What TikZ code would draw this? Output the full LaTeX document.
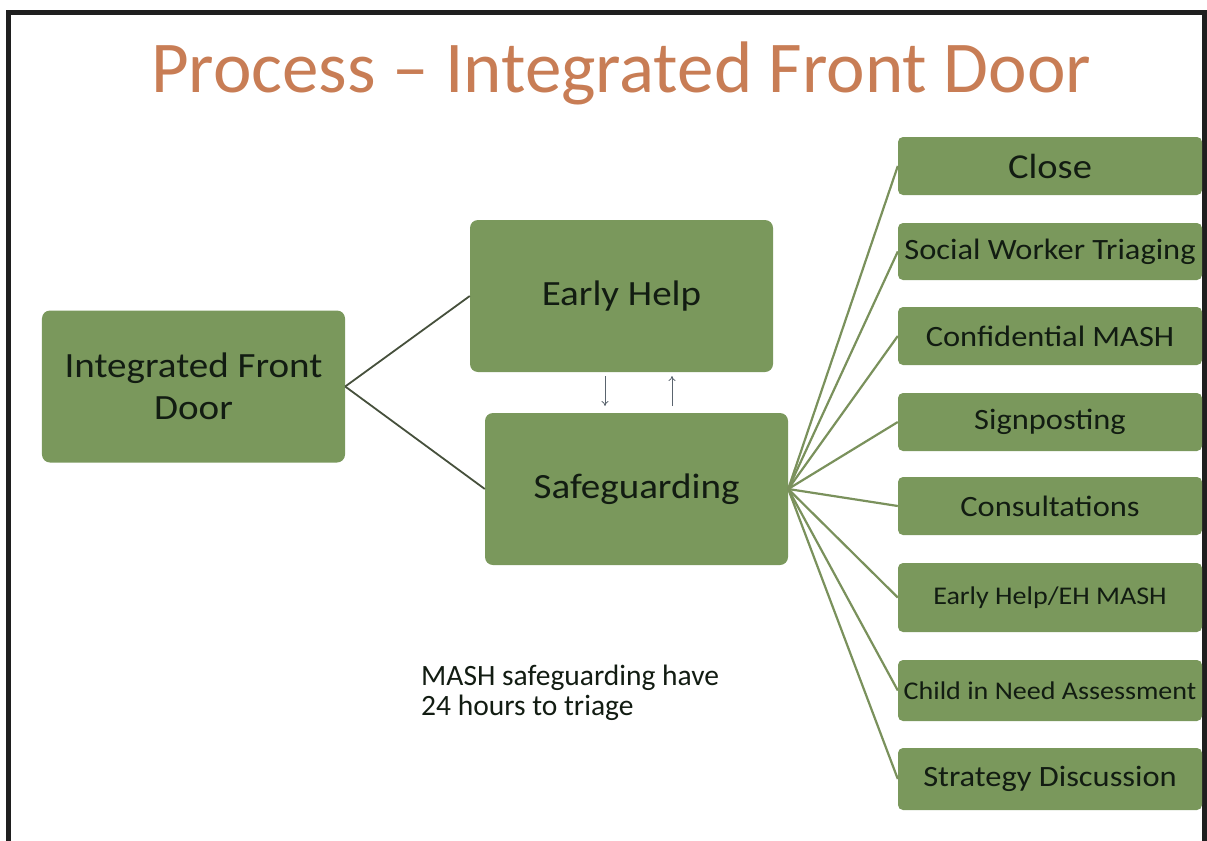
\documentclass[tikz,border=0pt]{standalone}
\usepackage{fontspec}
\setmainfont{Carlito}
\newfontfamily\boxfont{Carlito}[FakeStretch=1.1]
\usetikzlibrary{arrows.meta}
\definecolor{boxgreen}{RGB}{122,152,92}
\definecolor{txt}{RGB}{18,28,18}
\definecolor{titlec}{RGB}{200,125,85}
\definecolor{fanline}{RGB}{122,145,92}
\definecolor{ifdline}{RGB}{70,80,60}
\definecolor{arrc}{RGB}{90,100,110}
\tikzset{
  gbox/.style={fill=boxgreen, draw=none, rounded corners=8bp, text=txt, align=center, inner sep=0pt,
    font=\boxfont\fontsize{35.5bp}{42bp}\selectfont, minimum width=303bp, minimum height=152bp},
  sbox/.style={gbox, rounded corners=5bp, minimum width=304bp, minimum height=58bp,
    font=\boxfont\fontsize{29.5bp}{34bp}\selectfont},
  fan/.style={draw=fanline, line width=2.2bp},
  ifd/.style={draw=ifdline, line width=1.8bp},
  smallarr/.style={draw=arrc, line width=0.8bp, -{To[length=5bp,width=7bp]}},
}
\begin{document}
\begin{tikzpicture}[x=1bp,y=-1bp]
\useasboundingbox (0,0) rectangle (1207,841);
% frame
\draw[line width=5bp, draw=black!88] (8.5,850) -- (8.5,12.5) -- (1204.5,12.5) -- (1204.5,850);
% title
\node[text=titlec, font=\fontsize{73bp}{80bp}\selectfont] (title) at (621,73) {Process – Integrated Front Door};
% main boxes
\node[gbox] (ifdbox) at (193.5,386.5) {Integrated Front\\Door};
\node[gbox] (eh) at (621.5,296) {Early Help};
\node[gbox] (sg) at (636.5,489) {Safeguarding};
% right boxes
\node[sbox, font=\boxfont\fontsize{35bp}{40bp}\selectfont] (close) at (1050,166) {Close};
\node[sbox, minimum height=57bp] (swt) at (1050,251.5) {Social Worker Triaging};
\node[sbox] (conf) at (1050,336) {Confidential MASH};
\node[sbox] (sign) at (1050,422) {Signposting};
\node[sbox] (cons) at (1050,506) {Consultations};
\node[sbox, minimum height=69bp, font=\boxfont\fontsize{25.5bp}{30bp}\selectfont] (ehm) at (1050,597.5) {Early Help/EH MASH};
\node[sbox, minimum height=61bp, font=\boxfont\fontsize{25.5bp}{30bp}\selectfont] (cin) at (1050,690.5) {Child in Need Assessment};
\node[sbox, minimum height=62bp] (strat) at (1050,779) {Strategy Discussion};
% connectors IFD
\draw[ifd] (ifdbox.east) -- (eh.west);
\draw[ifd] (ifdbox.east) -- (sg.west);
% arrows between EH and SG
\coordinate (d1) at (605,376);
\coordinate (d2) at (605,406);
\coordinate (u1) at (672,406);
\coordinate (u2) at (672,376);
\draw[smallarr] (d1) -- (d2);
\draw[smallarr] (u1) -- (u2);
% fan
\foreach \t in {close,swt,conf,sign,cons,ehm,cin,strat}{
  \draw[fan] (sg.east) -- (\t.west);
}
% note
\node[anchor=north west, align=left, text=txt, font=\fontsize{29.5bp}{30bp}\selectfont, inner sep=0pt] (note) at (421,665) {MASH safeguarding have\\24 hours to triage};
\end{tikzpicture}
\end{document}
